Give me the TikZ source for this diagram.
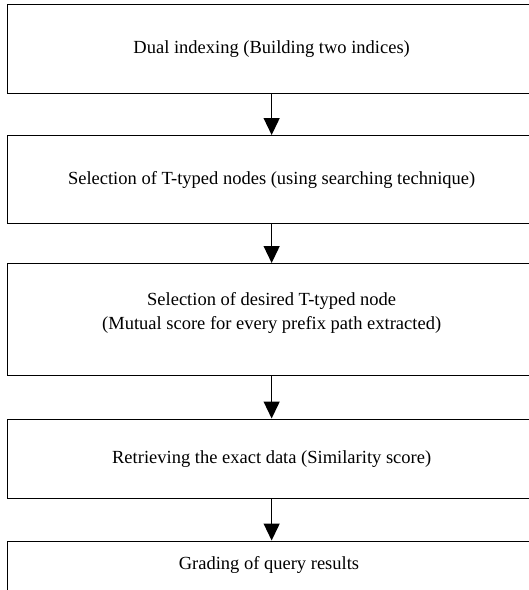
\documentclass[tikz,border=0pt]{standalone}
\usepackage{fontspec}
\setmainfont{Liberation Serif}
\usetikzlibrary{arrows.meta}
\begin{document}
\begin{tikzpicture}[x=1pt,y=-1pt,
  txt/.style={font=\fontsize{18.5pt}{24pt}\selectfont},
  stepbox/.style={draw=black, line width=1.3pt, rectangle, anchor=north west,
    minimum width=528pt, inner sep=0pt, align=center, txt},
  flow/.style={draw=black, line width=1.3pt, -{Triangle[length=17pt,width=16pt]}}]
\useasboundingbox (0,0) rectangle (529,590);
\clip (0,0) rectangle (529,590);
\node[stepbox, minimum height=88.5pt] (b1) at (7,4) {Dual indexing (Building two indices)};
\node[stepbox, minimum height=88pt] (b2) at (7,135) {Selection of T-typed nodes (using searching technique)};
\node[stepbox, minimum height=111.5pt] (b3) at (7,263) {Selection of desired T-typed node\\(Mutual score for every prefix path extracted)\\[-8pt]};
\node[stepbox, minimum height=79.5pt] (b4) at (7,418.5) {Retrieving the exact data (Similarity score)};
\node[stepbox, minimum height=80pt] (b5) at (7,540.5) {};
\node[txt] (t5) at (269,565) {Grading of query results};
\draw[flow] (b1.south) -- (b2.north);
\draw[flow] (b2.south) -- (b3.north);
\draw[flow] (b3.south) -- (b4.north);
\draw[flow] (b4.south) -- (b5.north);
\end{tikzpicture}
\end{document}
